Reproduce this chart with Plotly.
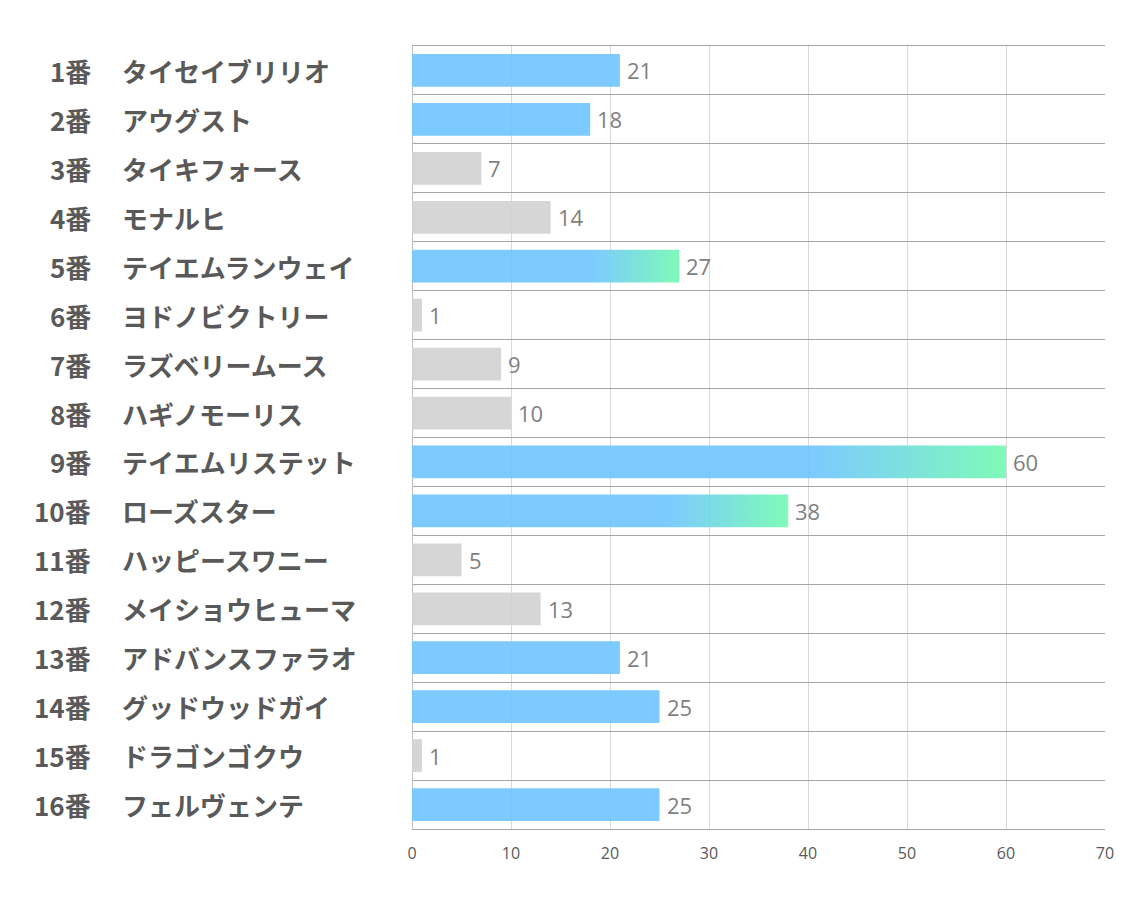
import plotly.graph_objects as go

numbers = ["1番", "2番", "3番", "4番", "5番", "6番", "7番", "8番",
           "9番", "10番", "11番", "12番", "13番", "14番", "15番", "16番"]
names = ["タイセイブリリオ", "アウグスト", "タイキフォース", "モナルヒ", "テイエムランウェイ",
         "ヨドノビクトリー", "ラズベリームース", "ハギノモーリス", "テイエムリステット",
         "ローズスター", "ハッピースワニー", "メイショウヒューマ", "アドバンスファラオ",
         "グッドウッドガイ", "ドラゴンゴクウ", "フェルヴェンテ"]
values = [21, 18, 7, 14, 27, 1, 9, 10, 60, 38, 5, 13, 21, 25, 1, 25]
kinds = ["blue", "blue", "gray", "gray", "grad", "gray", "gray", "gray",
         "grad", "grad", "gray", "gray", "blue", "blue", "gray", "blue"]
x_ticks = [0, 10, 20, 30, 40, 50, 60, 70]

BLUE = "rgba(110,196,255,0.9)"
GRAY = "rgba(210,210,210,0.9)"
GREEN = "rgba(120,250,180,0.95)"
W = 0.67

fig = go.Figure()
idx = list(range(len(values)))

for kind, color in (("blue", BLUE), ("gray", GRAY)):
    ys = [i for i in idx if kinds[i] == kind]
    fig.add_trace(go.Bar(
        x=[values[i] for i in ys], y=ys, orientation="h",
        marker=dict(color=color, line=dict(width=0)), width=W,
        hoverinfo="skip", showlegend=False))

for i in idx:
    if kinds[i] != "grad":
        continue
    v = values[i]
    fig.add_trace(go.Scatter(
        x=[0, v, v, 0, 0], y=[i - W / 2, i - W / 2, i + W / 2, i + W / 2, i - W / 2],
        mode="lines", line=dict(width=0), fill="toself",
        fillgradient=dict(type="horizontal", start=0, stop=v,
                          colorscale=[[0, BLUE], [0.67, BLUE], [1, GREEN]]),
        hoverinfo="skip", showlegend=False))

LABEL_FONT = dict(family="Noto Sans CJK JP", size=26, color="#595959", weight="bold")
ann = []
for i in idx:
    ann.append(dict(xref="paper", yref="y", x=-0.4603, y=i, text=numbers[i],
                    xanchor="right", yanchor="middle", showarrow=False, font=LABEL_FONT))
    ann.append(dict(xref="paper", yref="y", x=-0.4214, y=i, text=names[i],
                    xanchor="left", yanchor="middle", showarrow=False, font=LABEL_FONT))
    ann.append(dict(xref="x", yref="y", x=values[i], y=i, text=str(values[i]),
                    xanchor="left", yanchor="middle", showarrow=False, xshift=5,
                    font=dict(family="Open Sans, Noto Sans", size=22, color="#7f7f7f")))

fig.update_layout(
    width=1134, height=907,
    margin=dict(l=412, r=29, t=46, b=78),
    paper_bgcolor="white", plot_bgcolor="white",
    annotations=ann,
    xaxis=dict(range=[0, 70], tickvals=x_ticks, showgrid=True, gridcolor="#d9d9d9",
               gridwidth=1, zeroline=True, zerolinecolor="#bfbfbf", zerolinewidth=1,
               showline=True, linecolor="#a6a6a6", linewidth=1, mirror=True, ticks="",
               ticklabelstandoff=10,
               tickfont=dict(family="Open Sans, Noto Sans", size=16, color="#595959")),
    yaxis=dict(range=[15.5, -0.5], tickvals=[k - 0.5 for k in range(17)],
               showticklabels=False, showgrid=True, gridcolor="#a6a6a6", gridwidth=1,
               zeroline=False, ticks="", showline=False),
)

fig.write_html("out.html")
